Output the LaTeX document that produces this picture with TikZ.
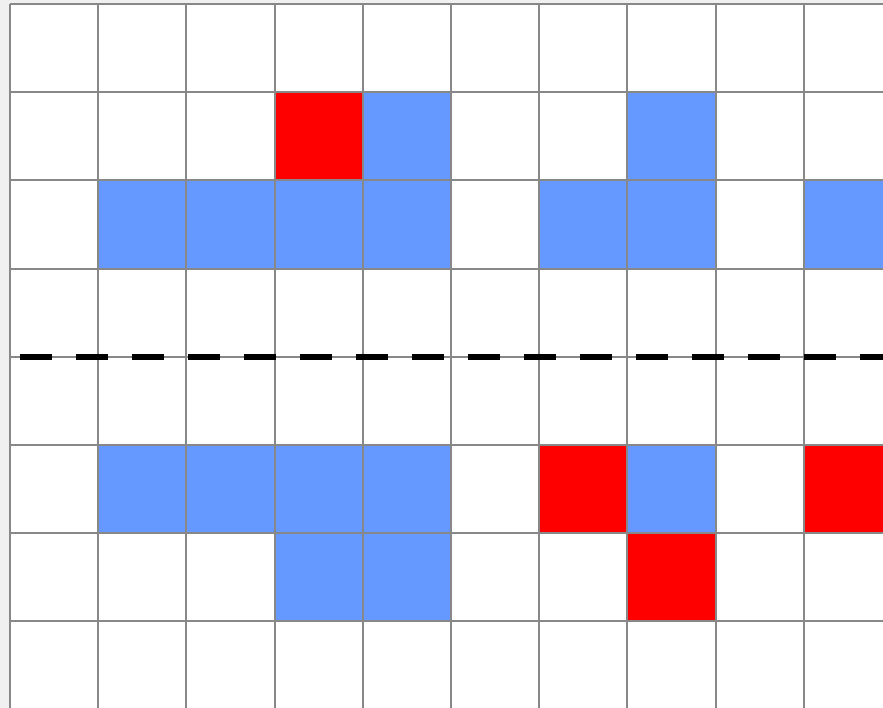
\documentclass[tikz,border=0pt]{standalone}
\usepackage{tikz}

\definecolor{bggray}{HTML}{F0F0F0}
\definecolor{gridgray}{HTML}{888888}
\definecolor{cellblue}{HTML}{6699FF}
\definecolor{cellred}{HTML}{FF0000}

\begin{document}
\begin{tikzpicture}[x=0.025cm, y=-0.025cm,
    gridline/.style={draw=gridgray, line width=0.05cm},
    bluecell/.style={fill=cellblue},
    redcell/.style={fill=cellred}]
    \clip (0,0) rectangle (883,708);
    \fill[bggray] (0,0) rectangle (883,708);
    \fill[white] (10,4) rectangle (883,708);
    % coloured cells (column/row)
    \foreach \c/\r in {4/1,7/1,1/2,2/2,3/2,4/2,6/2,7/2,9/2,1/5,2/5,3/5,4/5,7/5,3/6,4/6} {
      \fill[bluecell] ({10+88.2*\c},{4+88.2*\r}) rectangle +(88.2,88.2);
    }
    \foreach \c/\r in {3/1,6/5,9/5,7/6} {
      \fill[redcell] ({10+88.2*\c},{4+88.2*\r}) rectangle +(88.2,88.2);
    }
    % grid
    \foreach \i in {0,...,10} {
      \draw[gridline] ({10+88.2*\i},4) -- ({10+88.2*\i},720);
    }
    \foreach \j in {0,...,8} {
      \draw[gridline] (10,{4+88.2*\j}) -- (900,{4+88.2*\j});
    }
    \draw[black, line width=0.15cm, dash pattern=on 0.8cm off 0.6cm] (20,356.8) -- (900,356.8);
  \end{tikzpicture}
\end{document}
